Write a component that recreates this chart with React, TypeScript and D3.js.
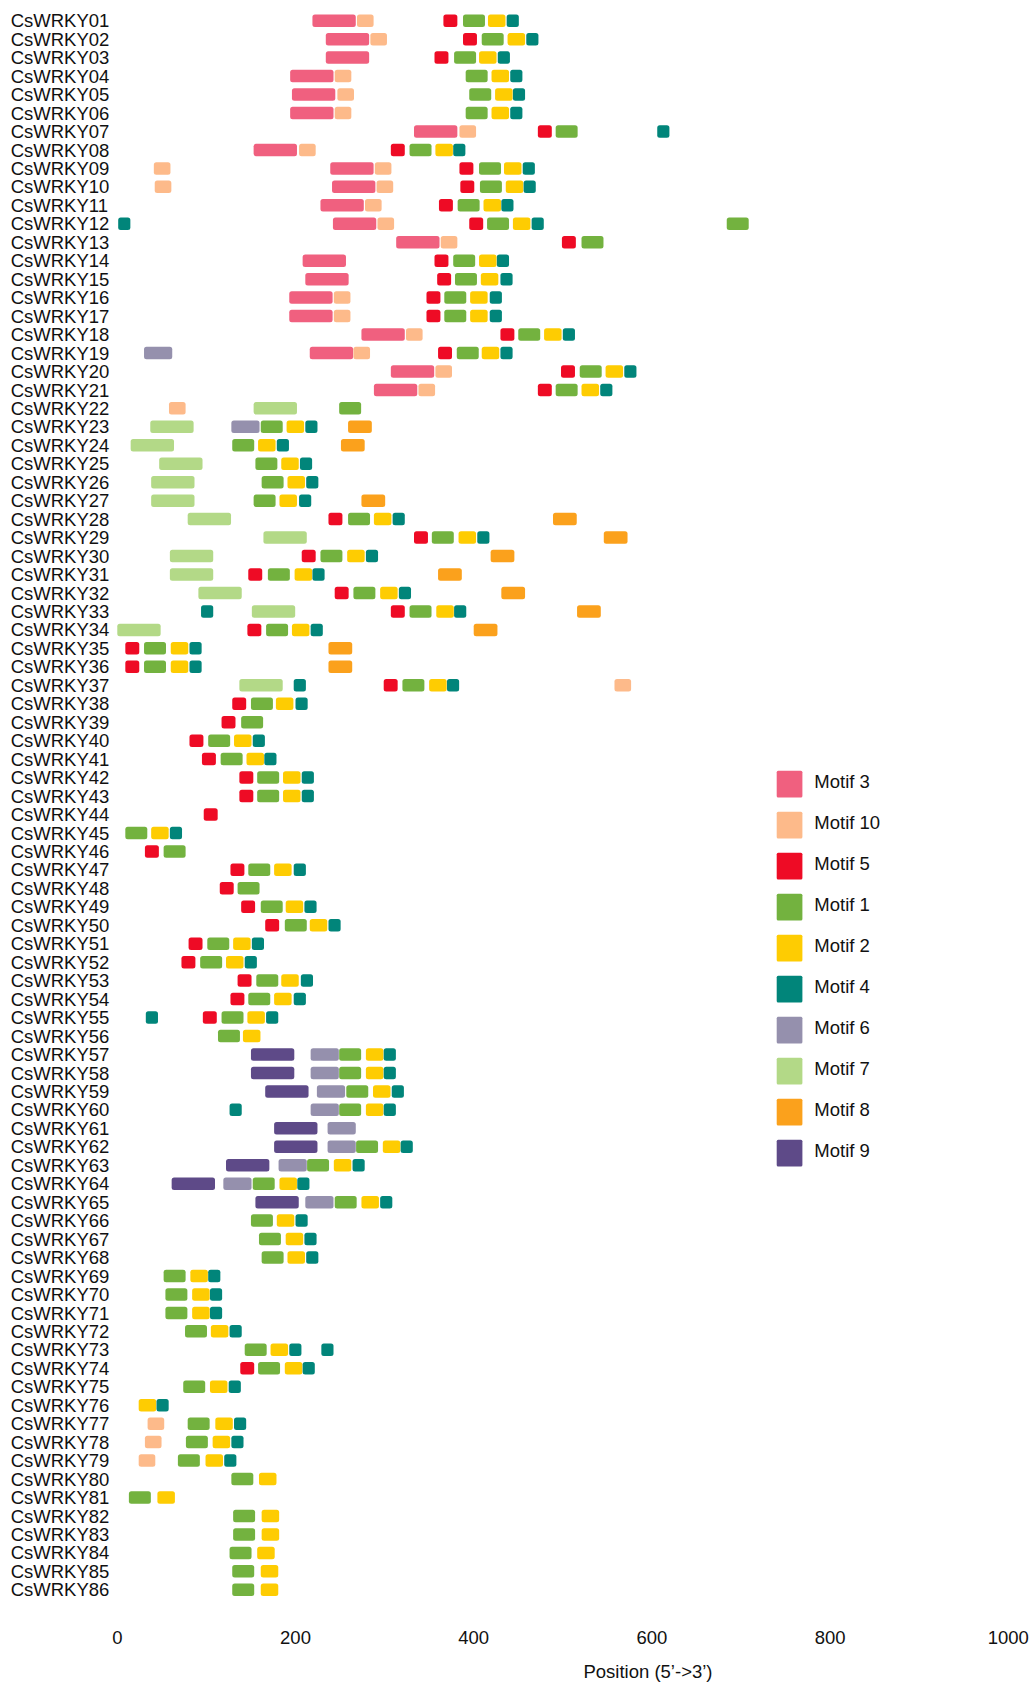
import React from "react";
import * as d3 from "d3";

const genes = [
  "CsWRKY01","CsWRKY02","CsWRKY03","CsWRKY04","CsWRKY05","CsWRKY06","CsWRKY07","CsWRKY08","CsWRKY09","CsWRKY10",
  "CsWRKY11","CsWRKY12","CsWRKY13","CsWRKY14","CsWRKY15","CsWRKY16","CsWRKY17","CsWRKY18","CsWRKY19","CsWRKY20",
  "CsWRKY21","CsWRKY22","CsWRKY23","CsWRKY24","CsWRKY25","CsWRKY26","CsWRKY27","CsWRKY28","CsWRKY29","CsWRKY30",
  "CsWRKY31","CsWRKY32","CsWRKY33","CsWRKY34","CsWRKY35","CsWRKY36","CsWRKY37","CsWRKY38","CsWRKY39","CsWRKY40",
  "CsWRKY41","CsWRKY42","CsWRKY43","CsWRKY44","CsWRKY45","CsWRKY46","CsWRKY47","CsWRKY48","CsWRKY49","CsWRKY50",
  "CsWRKY51","CsWRKY52","CsWRKY53","CsWRKY54","CsWRKY55","CsWRKY56","CsWRKY57","CsWRKY58","CsWRKY59","CsWRKY60",
  "CsWRKY61","CsWRKY62","CsWRKY63","CsWRKY64","CsWRKY65","CsWRKY66","CsWRKY67","CsWRKY68","CsWRKY69","CsWRKY70",
  "CsWRKY71","CsWRKY72","CsWRKY73","CsWRKY74","CsWRKY75","CsWRKY76","CsWRKY77","CsWRKY78","CsWRKY79","CsWRKY80",
  "CsWRKY81","CsWRKY82","CsWRKY83","CsWRKY84","CsWRKY85","CsWRKY86",
];

// legend order
const motifIds = [3, 10, 5, 1, 2, 4, 6, 7, 8, 9];
const motifColors = ["#F0607F", "#FDBA8A", "#EE0B25", "#73B23F", "#FECC02", "#01857A", "#9590AD", "#B3D987", "#FBA11C", "#5E4A88"];
const motifLengths = [50, 20, 17, 26, 21, 15, 33, 50, 28, 50];

const xTicks = [0, 200, 400, 600, 800, 1000];

// [motif number, start position] per gene
const sites: [number, number][][] = [
  [[3,219],[10,269],[5,366],[1,388],[2,416],[4,437]],
  [[3,234],[10,284],[5,388],[1,409],[2,438],[4,459]],
  [[3,234],[5,356],[1,378],[2,406],[4,427]],
  [[3,194],[10,244],[1,391],[2,420],[4,441]],
  [[3,196],[10,247],[1,395],[2,424],[4,444]],
  [[3,194],[10,244],[1,391],[2,420],[4,441]],
  [[3,333],[10,384],[5,472],[1,492],[4,606]],
  [[3,153],[10,204],[5,307],[1,328],[2,357],[4,377]],
  [[10,41],[3,239],[10,289],[5,384],[1,406],[2,434],[4,455]],
  [[10,42],[3,241],[10,291],[5,385],[1,407],[2,436],[4,456]],
  [[3,228],[10,278],[5,361],[1,382],[2,411],[4,431]],
  [[4,1],[3,242],[10,292],[5,395],[1,415],[2,444],[4,465],[1,684]],
  [[3,313],[10,363],[5,499],[1,521]],
  [[3,208],[5,356],[1,377],[2,406],[4,426]],
  [[3,211],[5,359],[1,379],[2,408],[4,430]],
  [[3,193],[10,243],[5,347],[1,367],[2,396],[4,418]],
  [[3,193],[10,243],[5,347],[1,367],[2,396],[4,418]],
  [[3,274],[10,324],[5,430],[1,450],[2,479],[4,500]],
  [[6,30],[3,216],[10,265],[5,360],[1,381],[2,409],[4,430]],
  [[3,307],[10,357],[5,498],[1,519],[2,548],[4,569]],
  [[3,288],[10,338],[5,472],[1,492],[2,521],[4,542]],
  [[10,58],[7,153],[1,249]],
  [[7,37],[6,128],[1,161],[2,190],[4,211],[8,259]],
  [[7,15],[1,129],[2,158],[4,179],[8,251]],
  [[7,47],[1,155],[2,184],[4,205]],
  [[7,38],[1,162],[2,191],[4,212]],
  [[7,38],[1,153],[2,182],[4,204],[8,274]],
  [[7,79],[5,237],[1,259],[2,288],[4,309],[8,489]],
  [[7,164],[5,333],[1,353],[2,383],[4,404],[8,546]],
  [[7,59],[5,207],[1,228],[2,258],[4,279],[8,419]],
  [[7,59],[5,147],[1,169],[2,199],[4,219],[8,360]],
  [[7,91],[5,244],[1,265],[2,295],[4,316],[8,431]],
  [[4,94],[7,151],[5,307],[1,328],[2,358],[4,378],[8,516]],
  [[7,0],[5,146],[1,167],[2,196],[4,217],[8,400]],
  [[5,9],[1,30],[2,60],[4,81],[8,237]],
  [[5,9],[1,30],[2,60],[4,81],[8,237]],
  [[7,137],[4,198],[5,299],[1,320],[2,350],[4,370],[10,558]],
  [[5,129],[1,150],[2,178],[4,200]],
  [[5,117],[1,139]],
  [[5,81],[1,102],[2,131],[4,152]],
  [[5,95],[1,116],[2,145],[4,165]],
  [[5,137],[1,157],[2,186],[4,207]],
  [[5,137],[1,157],[2,186],[4,207]],
  [[5,97]],
  [[1,9],[2,38],[4,59]],
  [[5,31],[1,52]],
  [[5,127],[1,147],[2,176],[4,198]],
  [[5,115],[1,135]],
  [[5,139],[1,161],[2,189],[4,210]],
  [[5,166],[1,188],[2,216],[4,237]],
  [[5,80],[1,101],[2,130],[4,151]],
  [[5,72],[1,93],[2,122],[4,143]],
  [[5,135],[1,156],[2,184],[4,206]],
  [[5,127],[1,147],[2,176],[4,198]],
  [[4,32],[5,96],[1,117],[2,146],[4,167]],
  [[1,113],[2,141]],
  [[9,150],[6,217],[1,249],[2,279],[4,299]],
  [[9,150],[6,217],[1,249],[2,279],[4,299]],
  [[9,166],[6,224],[1,257],[2,287],[4,308]],
  [[4,126],[6,217],[1,249],[2,279],[4,299]],
  [[9,176],[6,236]],
  [[9,176],[6,236],[1,268],[2,298],[4,318]],
  [[9,122],[6,181],[1,213],[2,243],[4,264]],
  [[9,61],[6,119],[1,152],[2,182],[4,202]],
  [[9,155],[6,211],[1,244],[2,274],[4,295]],
  [[1,150],[2,179],[4,200]],
  [[1,159],[2,189],[4,210]],
  [[1,162],[2,191],[4,212]],
  [[1,52],[2,82],[4,102]],
  [[1,54],[2,84],[4,104]],
  [[1,54],[2,84],[4,104]],
  [[1,76],[2,105],[4,126]],
  [[1,143],[2,172],[4,193],[4,229]],
  [[5,138],[1,158],[2,188],[4,208]],
  [[1,74],[2,104],[4,125]],
  [[2,24],[4,44]],
  [[10,34],[1,79],[2,110],[4,131]],
  [[10,31],[1,77],[2,107],[4,128]],
  [[10,24],[1,68],[2,99],[4,120]],
  [[1,128],[2,159]],
  [[1,13],[2,45]],
  [[1,130],[2,162]],
  [[1,130],[2,162]],
  [[1,126],[2,157]],
  [[1,129],[2,161]],
  [[1,129],[2,161]],
];

const FONT = "'Liberation Sans', Arial, Helvetica, sans-serif";

export default function App() {
  const W = 1032;
  const H = 1682;
  const x = d3.scaleLinear().domain([0, 1000]).range([117.3, 1008.3]);
  const rowStep = 18.46;
  const y = d3.scaleBand<string>().domain(genes).range([11.47, 11.47 + genes.length * rowStep]);
  const bw = y.bandwidth();
  const color = d3.scaleOrdinal<number, string>().domain(motifIds).range(motifColors);
  const lenOf = (m: number) => motifLengths[motifIds.indexOf(m)];
  const boxH = 12.5;

  const legendY = d3.scalePoint<string>().domain(motifIds.map(String)).range([770.7, 770.7 + 41 * 9]);

  return (
    <svg width={W} height={H} style={{ position: "absolute", left: 0, top: 0, display: "block", background: "#fff" }}>
      <rect x={0} y={0} width={W} height={H} fill="#fff" />
      {genes.map((g, i) => {
        const cy = (y(g) as number) + bw / 2;
        return (
          <g key={g}>
            <text x={10.7} y={cy + 6.6} fontFamily={FONT} fontSize={18.5} fill="#111">
              {g}
            </text>
            {sites[i].map(([m, s], j) => (
              <rect
                key={j}
                x={x(s)}
                y={cy - boxH / 2}
                width={x(s + lenOf(m)) - x(s) - 1.2}
                height={boxH}
                rx={2.5}
                ry={2.5}
                fill={color(m)}
              />
            ))}
          </g>
        );
      })}
      {xTicks.map((t) => (
        <text key={t} x={x(t)} y={1643.6} textAnchor="middle" fontFamily={FONT} fontSize={18.5} fill="#111">
          {t}
        </text>
      ))}
      <text x={648} y={1677.6} textAnchor="middle" fontFamily={FONT} fontSize={18.5} fill="#111">
        Position (5’-&gt;3’)
      </text>
      {motifIds.map((m, i) => {
        const ly = legendY(String(m)) as number;
        return (
          <g key={m}>
            <rect x={776.7} y={ly} width={25.7} height={26.7} rx={1.5} fill={motifColors[i]} />
            <text x={814.3} y={ly + 17.6} fontFamily={FONT} fontSize={18.5} fill="#111">
              {`Motif ${m}`}
            </text>
          </g>
        );
      })}
    </svg>
  );
}
